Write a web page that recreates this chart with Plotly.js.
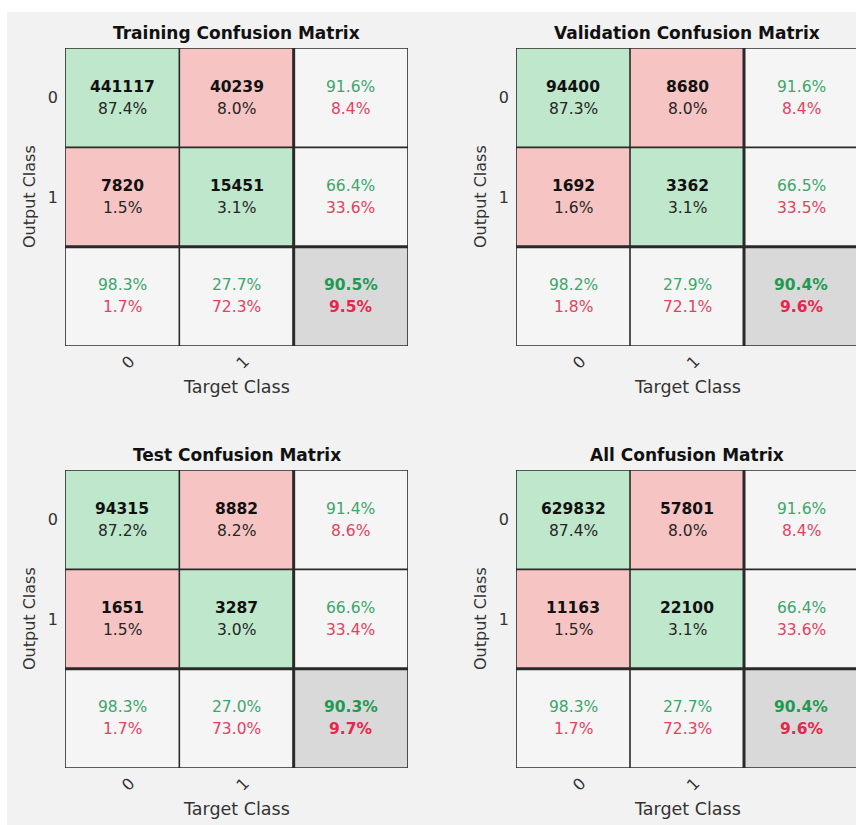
<!DOCTYPE html>
<html>
<head>
<meta charset="utf-8">
<script src="https://cdn.plot.ly/plotly-3.0.1.min.js"></script>
<style>
  html, body { margin: 0; padding: 0; background: #f2f2f2; overflow: hidden; }
  #chart { width: 860px; height: 825px; }
</style>
</head>
<body>
<div id="chart"></div>
<script>
// ---------------- DATA ----------------
const categories = ['0', '1'];
const matrixTitles = ['Training Confusion Matrix', 'Validation Confusion Matrix',
                      'Test Confusion Matrix', 'All Confusion Matrix'];

// counts [output row][target column]
const trainCounts = [[441117, 40239], [7820, 15451]];
const validCounts = [[94400, 8680], [1692, 3362]];
const testCounts  = [[94315, 8882], [1651, 3287]];
const allCounts   = [[629832, 57801], [11163, 22100]];

// percentage of all samples
const trainPct = [[87.4, 8.0], [1.5, 3.1]];
const validPct = [[87.3, 8.0], [1.6, 3.1]];
const testPct  = [[87.2, 8.2], [1.5, 3.0]];
const allPct   = [[87.4, 8.0], [1.5, 3.1]];

// right column: per output class correct / wrong
const trainRowGood = [91.6, 66.4], trainRowBad = [8.4, 33.6];
const validRowGood = [91.6, 66.5], validRowBad = [8.4, 33.5];
const testRowGood  = [91.4, 66.6], testRowBad  = [8.6, 33.4];
const allRowGood   = [91.6, 66.4], allRowBad   = [8.4, 33.6];

// bottom row: per target class correct / wrong
const trainColGood = [98.3, 27.7], trainColBad = [1.7, 72.3];
const validColGood = [98.2, 27.9], validColBad = [1.8, 72.1];
const testColGood  = [98.3, 27.0], testColBad  = [1.7, 73.0];
const allColGood   = [98.3, 27.7], allColBad   = [1.7, 72.3];

// overall
const overallGood = [90.5, 90.4, 90.3, 90.4];
const overallBad  = [9.5, 9.6, 9.7, 9.6];

const matrices = [
  {counts: trainCounts, pct: trainPct, rowG: trainRowGood, rowB: trainRowBad, colG: trainColGood, colB: trainColBad},
  {counts: validCounts, pct: validPct, rowG: validRowGood, rowB: validRowBad, colG: validColGood, colB: validColBad},
  {counts: testCounts,  pct: testPct,  rowG: testRowGood,  rowB: testRowBad,  colG: testColGood,  colB: testColBad},
  {counts: allCounts,   pct: allPct,   rowG: allRowGood,   rowB: allRowBad,   colG: allColGood,   colB: allColBad}
];

// ---------------- STYLE ----------------
const W = 860, H = 825;
const FONT = 'DejaVu Sans, Liberation Sans, Arial, sans-serif';
const xDomains = [[65 / W, 408 / W], [516 / W, 858 / W], [65 / W, 408 / W], [516 / W, 858 / W]];
const yDomains = [[1 - 346 / H, 1 - 48 / H], [1 - 346 / H, 1 - 48 / H], [1 - 768 / H, 1 - 470 / H], [1 - 768 / H, 1 - 470 / H]];
const GREEN_TXT = '#3ca66b', RED_TXT = '#e3425f';
const cellColors = [[0, '#f5f5f5'], [1 / 3, '#bfe7cb'], [2 / 3, '#f6c4c3'], [1, '#d9d9d9']];

const n = categories.length;
const data = [];
const annotations = [];
const shapes = [
  // white strips at the top and left edge of the picture
  {type: 'rect', xref: 'paper', yref: 'paper', x0: 0, x1: 1, y0: 1 - 12 / H, y1: 1,
   line: {width: 0}, fillcolor: '#ffffff', layer: 'below'},
  {type: 'rect', xref: 'paper', yref: 'paper', x0: 0, x1: 7 / W, y0: 0, y1: 1,
   line: {width: 0}, fillcolor: '#ffffff', layer: 'below'}
];
const layout = {
  width: W, height: H,
  margin: {l: 0, r: 0, t: 0, b: 0},
  paper_bgcolor: '#f2f2f2',
  plot_bgcolor: '#f2f2f2',
  showlegend: false,
  font: {family: FONT, color: '#222'}
};

matrices.forEach((m, k) => {
  const sfx = k === 0 ? '' : String(k + 1);
  const xa = 'x' + sfx, ya = 'y' + sfx;
  // cell type codes: 0 summary, 1 correct, 2 wrong, 3 overall
  const z = [];
  for (let r = 0; r <= n; r++) {
    const row = [];
    for (let c = 0; c <= n; c++) {
      if (r === n && c === n) row.push(3);
      else if (r === n || c === n) row.push(0);
      else row.push(r === c ? 1 : 2);
    }
    z.push(row);
  }
  const idx = [...Array(n + 1).keys()];
  data.push({
    type: 'heatmap', z: z, x: idx, y: idx, xaxis: xa, yaxis: ya,
    zmin: 0, zmax: 3, colorscale: cellColors, showscale: false, hoverinfo: 'skip'
  });

  layout['xaxis' + sfx] = {
    domain: xDomains[k], anchor: ya, range: [-0.5, n + 0.5],
    tickmode: 'array', tickvals: categories.map((_, i) => i), ticktext: categories,
    tickangle: -45, ticks: '', showgrid: false, zeroline: false, showline: false,
    ticklabelshift: 8, ticklabelstandoff: 2,
    tickfont: {family: FONT, size: 16, color: '#333'}, fixedrange: true
  };
  layout['yaxis' + sfx] = {
    domain: yDomains[k], anchor: xa, range: [n + 0.5, -0.5],
    tickmode: 'array', tickvals: categories.map((_, i) => i), ticktext: categories,
    ticks: '', showgrid: false, zeroline: false, showline: false,
    ticklabelstandoff: 6,
    tickfont: {family: FONT, size: 16, color: '#333'}, fixedrange: true
  };

  // grid lines
  for (let i = 0; i <= n + 1; i++) {
    const p = i - 0.5;
    const w = (i === n) ? 3 : 1.6;
    shapes.push({type: 'line', xref: xa, yref: ya, x0: p, x1: p, y0: -0.5, y1: n + 0.5,
                 line: {color: '#2a2a2a', width: w}});
    shapes.push({type: 'line', xref: xa, yref: ya, x0: -0.5, x1: n + 0.5, y0: p, y1: p,
                 line: {color: '#2a2a2a', width: w}});
  }

  const cellText = (x, y, text, color, bold, shift) => {
    annotations.push({
      xref: xa, yref: ya, x: x, y: y, yshift: shift, showarrow: false,
      text: bold ? '<b>' + text + '</b>' : text,
      font: {family: FONT, size: 15.5, color: color}
    });
  };
  for (let r = 0; r < n; r++) {
    for (let c = 0; c < n; c++) {
      cellText(c, r, String(m.counts[r][c]), '#111', true, 11);
      cellText(c, r, m.pct[r][c].toFixed(1) + '%', '#262626', false, -11);
    }
    cellText(n, r, m.rowG[r].toFixed(1) + '%', GREEN_TXT, false, 11);
    cellText(n, r, m.rowB[r].toFixed(1) + '%', RED_TXT, false, -11);
  }
  for (let c = 0; c < n; c++) {
    cellText(c, n, m.colG[c].toFixed(1) + '%', GREEN_TXT, false, 11);
    cellText(c, n, m.colB[c].toFixed(1) + '%', RED_TXT, false, -11);
  }
  cellText(n, n, overallGood[k].toFixed(1) + '%', '#1f9a52', true, 11);
  cellText(n, n, overallBad[k].toFixed(1) + '%', '#e8254c', true, -11);

  // titles
  annotations.push({
    xref: xa + ' domain', yref: ya + ' domain', x: 0.5, y: 1, yanchor: 'middle', yshift: 15,
    showarrow: false, text: '<b>' + matrixTitles[k] + '</b>',
    font: {family: FONT, size: 17, color: '#111'}
  });
  annotations.push({
    xref: xa + ' domain', yref: ya + ' domain', x: 0.5, y: 0, yanchor: 'middle', yshift: -41,
    showarrow: false, text: 'Target Class',
    font: {family: FONT, size: 17.5, color: '#333'}
  });
  annotations.push({
    xref: xa + ' domain', yref: ya + ' domain', x: 0, y: 0.5, xanchor: 'center', xshift: -36,
    textangle: -90, showarrow: false, text: 'Output Class',
    font: {family: FONT, size: 16, color: '#333'}
  });
});

layout.annotations = annotations;
layout.shapes = shapes;

Plotly.newPlot('chart', data, layout, {displayModeBar: false, staticPlot: true});
</script>
</body>
</html>
